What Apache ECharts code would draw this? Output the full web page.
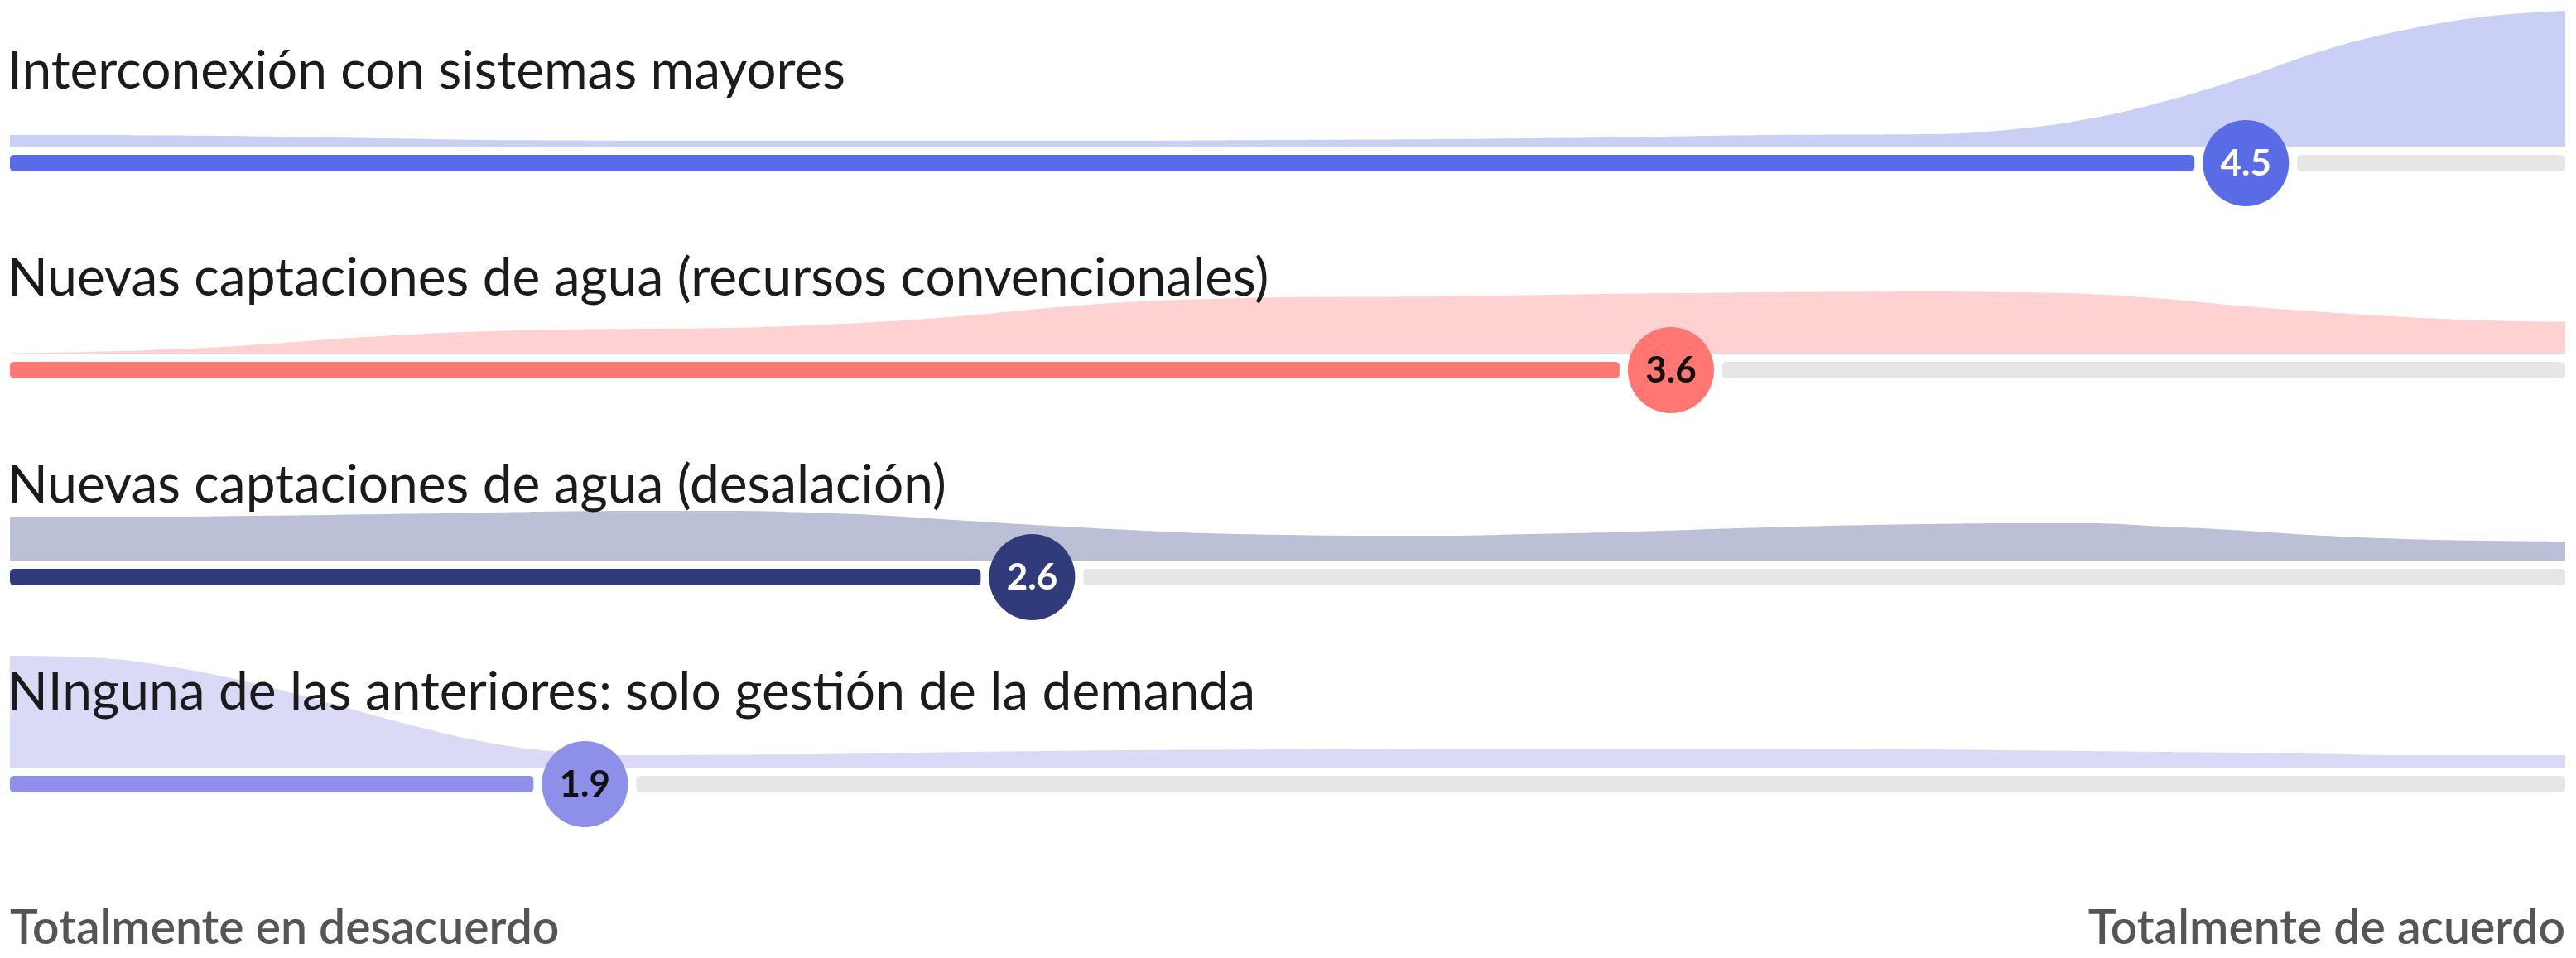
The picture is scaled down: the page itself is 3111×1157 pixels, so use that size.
<!DOCTYPE html>
<html>
<head>
<meta charset="utf-8">
<script src="https://cdn.jsdelivr.net/npm/echarts@6/dist/echarts.min.js"></script>
<style>
    html, body { margin: 0; padding: 0; background: #fff; }
    #chart { width: 3111px; height: 1157px; }
</style>
</head>
<body>
<div id="chart"></div>
<script>
// filas (de arriba a abajo)
const categories = [
    'Interconexión con sistemas mayores',
    'Nuevas captaciones de agua (recursos convencionales)',
    'Nuevas captaciones de agua (desalación)',
    'NInguna de las anteriores: solo gestión de la demanda',
]
const scores = [4.5, 3.6, 2.6, 1.9]
const scaleLabels = ['Totalmente en desacuerdo', 'Totalmente de acuerdo']

// distribución de respuestas (densidad relativa, escala común a las 4 filas)
const densityX = [
    1, 1.125, 1.25, 1.375, 1.5, 1.625, 1.75, 1.875,
    2, 2.125, 2.25, 2.375, 2.5, 2.625, 2.75, 2.875,
    3, 3.125, 3.25, 3.375, 3.5, 3.625, 3.75, 3.875,
    4, 4.125, 4.25, 4.375, 4.5, 4.625, 4.75, 4.875, 5,
]
const densityInterconexion = [
    0.082, 0.082, 0.079, 0.074, 0.065, 0.056, 0.047, 0.044,
    0.041, 0.041, 0.041, 0.041, 0.041, 0.041, 0.041, 0.044,
    0.047, 0.05, 0.053, 0.059, 0.065, 0.074, 0.082, 0.085,
    0.088, 0.118, 0.194, 0.324, 0.494, 0.688, 0.829, 0.924, 0.965,
]
const densityConvencionales = [
    0.003, 0.012, 0.029, 0.059, 0.1, 0.135, 0.159, 0.171,
    0.176, 0.182, 0.2, 0.229, 0.271, 0.324, 0.365, 0.388,
    0.4, 0.403, 0.406, 0.415, 0.424, 0.429, 0.435, 0.438,
    0.441, 0.435, 0.424, 0.388, 0.335, 0.294, 0.259, 0.235, 0.224,
]
const densityDesalacion = [
    0.312, 0.312, 0.312, 0.318, 0.324, 0.332, 0.341, 0.35,
    0.353, 0.353, 0.341, 0.318, 0.282, 0.247, 0.218, 0.194,
    0.182, 0.176, 0.176, 0.188, 0.2, 0.218, 0.235, 0.25,
    0.259, 0.265, 0.265, 0.241, 0.212, 0.176, 0.153, 0.141, 0.135,
]
const densityNinguna = [
    0.794, 0.782, 0.718, 0.606, 0.459, 0.306, 0.176, 0.106,
    0.088, 0.091, 0.094, 0.103, 0.112, 0.118, 0.124, 0.126,
    0.129, 0.132, 0.135, 0.135, 0.135, 0.135, 0.135, 0.132,
    0.129, 0.124, 0.118, 0.112, 0.106, 0.097, 0.088, 0.088, 0.088,
]
const densities = [densityInterconexion, densityConvencionales, densityDesalacion, densityNinguna]

const barColors = ['#5a6be6', '#ff7672', '#313a7a', '#8e8fe8']
const areaColors = ['#cacff5', '#ffd1d1', '#bcc0d6', '#dadaf7']
const valueColors = ['#ffffff', '#111111', '#ffffff', '#111111']

const rowTop = 7
const rowStep = 250
const areaHeight = 170

let myChart = echarts.init(document.getElementById('chart'))

let grids = []
let xAxes = []
let yAxes = []
let series = []
let graphics = []

categories.forEach((name, i) => {
    let top = rowTop + rowStep * i
    grids.push({ left: 12, right: 13, top: top, height: areaHeight })
    xAxes.push({ type: 'value', gridIndex: i, min: 1, max: 5, show: false })
    yAxes.push({ type: 'value', gridIndex: i, min: 0, max: 1, show: false })
    // curva de densidad
    series.push({
        type: 'line',
        xAxisIndex: i,
        yAxisIndex: i,
        smooth: 0.4,
        symbol: 'none',
        silent: true,
        lineStyle: { width: 0 },
        areaStyle: { color: areaColors[i], opacity: 1 },
        data: densityX.map((x, k) => [x, densities[i][k]]),
    })
    // barra + círculo con la media
    series.push({
        type: 'custom',
        xAxisIndex: i,
        yAxisIndex: i,
        silent: true,
        z: 5,
        encode: { x: 0, y: 1 },
        data: [[scores[i], 0]],
        renderItem: (params, api) => {
            let v = api.value(0)
            let start = api.coord([1, 0])
            let end = api.coord([5, 0])
            let c = api.coord([v, 0])
            let cy = start[1] + 20
            let r = 52
            let gap = 10
            let h = 20
            return {
                type: 'group',
                children: [
                    {
                        type: 'rect',
                        shape: { x: start[0], y: cy - h / 2, width: c[0] - r - gap - start[0], height: h, r: 5 },
                        style: { fill: barColors[i] },
                    },
                    {
                        type: 'rect',
                        shape: { x: c[0] + r + gap, y: cy - h / 2, width: end[0] - c[0] - r - gap, height: h, r: 5 },
                        style: { fill: '#e6e6e6' },
                    },
                    {
                        type: 'circle',
                        shape: { cx: c[0], cy: cy, r: r },
                        style: { fill: barColors[i] },
                    },
                    {
                        type: 'text',
                        x: c[0],
                        y: cy + 1,
                        style: {
                            text: v.toFixed(1),
                            fill: valueColors[i],
                            font: 'bold 44px Lato',
                            align: 'center',
                            verticalAlign: 'middle',
                        },
                    },
                ],
            }
        },
    })
    graphics.push({
        type: 'text',
        left: 9,
        top: 54 + rowStep * i,
        z: 10,
        style: {
            text: name,
            fill: '#1b1b1b',
            font: '64px Lato',
        },
    })
})

graphics.push({
    type: 'text',
    left: 12,
    top: 1093,
    style: { text: scaleLabels[0], fill: '#555555', font: '600 57px Lato' },
})
graphics.push({
    type: 'text',
    right: 13,
    top: 1093,
    style: { text: scaleLabels[1], fill: '#555555', font: '600 57px Lato' },
})

let option = {
    animation: false,
    grid: grids,
    xAxis: xAxes,
    yAxis: yAxes,
    series: series,
    graphic: graphics,
}
myChart.setOption(option)
</script>
</body>
</html>
